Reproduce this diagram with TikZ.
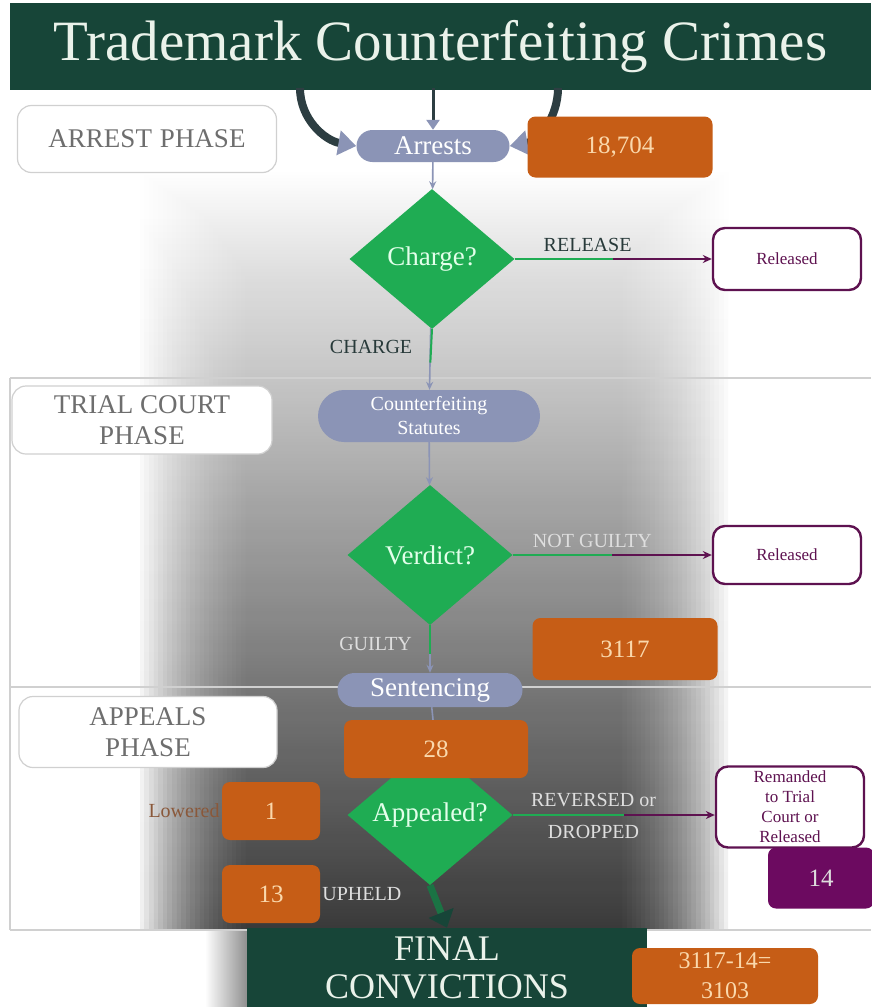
\documentclass[tikz,border=0pt]{standalone}
\usepackage{fontspec}
\setmainfont{Liberation Serif}
\usetikzlibrary{shapes.geometric,arrows.meta,calc}
%
\definecolor{titleGreen}{RGB}{23,69,56}
\definecolor{titleText}{RGB}{234,242,234}
\definecolor{pillBlue}{RGB}{139,148,182}
\definecolor{boxOrange}{RGB}{198,93,22}
\definecolor{orangeText}{RGB}{250,216,172}
\definecolor{diaGreen}{RGB}{31,172,83}
\definecolor{diaText}{RGB}{226,255,234}
\definecolor{plum}{RGB}{94,18,80}
\definecolor{plumFill}{RGB}{108,10,96}
\definecolor{slateText}{RGB}{40,58,58}
\definecolor{paleText}{RGB}{222,222,222}
\definecolor{phaseText}{RGB}{110,110,110}
\definecolor{brownText}{RGB}{138,88,58}
\definecolor{ruleGray}{RGB}{208,208,208}
\definecolor{arrowDark}{RGB}{45,62,66}
\newcommand{\sizeAt}[2]{\fontsize{#1}{#2}\selectfont}

\begin{document}
\begin{tikzpicture}[x=1pt,y=-1pt,
  phaseBox/.style={draw=ruleGray, line width=1.2pt, fill=white, rounded corners=14pt,
    text=phaseText, align=center, inner sep=0pt, font=\sizeAt{27}{31}},
  pillStyle/.style={fill=pillBlue, text=white, rounded corners=16pt, align=center,
    inner sep=0pt},
  countBox/.style={fill=boxOrange, text=orangeText, rounded corners=8pt, align=center,
    inner sep=0pt, font=\sizeAt{25}{31}},
  decision/.style={diamond, aspect=1, fill=diaGreen, text=diaText, inner sep=0pt,
    minimum width=165pt, minimum height=140pt, font=\sizeAt{27}{30}},
  outBox/.style={draw=plum, line width=2.4pt, fill=white, rounded corners=12pt,
    text=plum, align=center, inner sep=0pt, minimum width=148pt, font=\sizeAt{17}{20}},
  darkLabel/.style={text=slateText, font=\sizeAt{20}{22}},
  paleLabel/.style={text=paleText, font=\sizeAt{20}{22}},
  flowLine/.style={draw=pillBlue, line width=1.6pt, -{Stealth[length=8pt,width=7pt]}},
  greenLine/.style={draw=diaGreen, line width=2pt},
  plumLine/.style={draw=plum, line width=2pt, -{Stealth[length=9pt,width=8pt]}},
  topArrow/.style={draw=arrowDark, line width=#1,
    -{Triangle[length=18pt,width=24pt,color=pillBlue]}},
  heavyArrow/.style={draw=diaGreen!45!titleGreen, line width=7pt,
    -{Triangle[length=16pt,width=26pt,color=titleGreen]}},
]
%
%
\useasboundingbox (0,0) rectangle (871,1007);
\fill[white] (0,0) rectangle (871,1007);
%
% grey haze behind the flow, built up in thin layers
\foreach \k in {0,...,23}{
  \shade[top color=white, middle color=black!55, bottom color=black!95, opacity=0.062]
    ({140+4.6*\k},170) rectangle ({728-4.6*\k},930);
}
\shade[left color=white, right color=black!45] (205,930) rectangle (248,1007);
%
% phase panels
\draw[ruleGray, line width=2.5pt] (10,378) -- (871,378);
\draw[ruleGray, line width=2.5pt] (10,687) -- (871,687);
\draw[ruleGray, line width=2.5pt] (10,930) -- (871,930);
\draw[ruleGray, line width=2pt] (10,378) -- (10,930);
%
% title bar
\node[fill=titleGreen, minimum width=861pt, minimum height=87pt, inner sep=0pt,
  text=titleText, font=\sizeAt{57}{60}] (title) at (440.5,46.5)
  {Trademark Counterfeiting Crimes};
\coordinate (topL) at (300,88);
\coordinate (topM) at (433,88);
\coordinate (topR) at (558,88);
%
%
% The arrest phase.
\node[phaseBox, minimum width=259pt, minimum height=67pt] (phaseA) at (147,139)
  {ARREST\hspace{8pt}PHASE};
\node[pillStyle, minimum width=153pt, minimum height=32pt, font=\sizeAt{27}{30}]
  (arrests) at (433,146) {Arrests};
\draw[topArrow=8pt] (topL) to[out=-90,in=170] (arrests.west);
\draw[topArrow=8pt] (topR) to[out=-90,in=10] (arrests.east);
\draw[draw=arrowDark, line width=3pt, -{Triangle[length=10pt,width=13pt,color=pillBlue]}]
  (topM) -- (arrests.north);
\node[countBox, minimum width=185pt, minimum height=61pt] (cnt1) at (620,147) {18,704};
\node[decision] (charge) at (432,259) {Charge?};
\node[outBox, minimum height=62pt] (rel1) at (787,259) {Released};
\draw[flowLine] (arrests) -- (charge);
\draw[plumLine] (charge.east) -- node[pos=0.37, above=3pt, darkLabel] (relLbl) {RELEASE}
  (rel1.west);
\draw[greenLine] (charge.east) -- ($(charge.east)!0.5!(rel1.west)$);
%
%
% The trial court phase.
\node[phaseBox, minimum width=260pt, minimum height=68pt] (phaseT) at (142,420)
  {TRIAL COURT\\PHASE};
\node[pillStyle, rounded corners=26pt, minimum width=222pt, minimum height=52pt,
  font=\sizeAt{20}{24}] (statutes) at (429,416) {Counterfeiting\\Statutes};
\draw[flowLine] (charge) -- node[pos=0.3, left=14pt, darkLabel] (chgLbl) {CHARGE}
  (statutes);
\draw[greenLine] (charge.south) -- ($(charge.south)!0.55!(statutes.north)$);
\node[decision] (verdict) at (430,555) {Verdict?};
\node[outBox, minimum height=58pt] (rel2) at (787,555) {Released};
\draw[flowLine] (statutes) -- (verdict);
\draw[plumLine] (verdict.east) -- node[pos=0.4, above=3pt, paleLabel] (ngLbl) {NOT GUILTY}
  (rel2.west);
\draw[greenLine] (verdict.east) -- ($(verdict.east)!0.5!(rel2.west)$);
\node[countBox, minimum width=185pt, minimum height=62pt] (cnt2) at (625,649) {3117};
\node[pillStyle, minimum width=185pt, minimum height=34pt, rounded corners=17pt,
  font=\sizeAt{27}{30}] (sentencing) at (430,690) {Sentencing};
\draw[flowLine] (verdict) -- node[pos=0.4, left=14pt, paleLabel] (gLbl) {GUILTY}
  (sentencing);
\draw[greenLine] (verdict.south) -- ($(verdict.south)!0.6!(sentencing.north)$);
%
%
% The appeals phase.
\node[phaseBox, minimum width=258pt, minimum height=71pt] (phaseP) at (148,732)
  {APPEALS\\PHASE};
\node[decision] (appealed) at (430,815) {Appealed?};
\node[countBox, minimum width=184pt, minimum height=58pt] (cnt3) at (436,749) {28};
\draw[pillBlue, line width=1.6pt] (sentencing) -- (cnt3);
\node[countBox, minimum width=98pt, minimum height=58pt] (cnt4) at (271,811) {1};
\node[countBox, minimum width=98pt, minimum height=58pt] (cnt5) at (271,894) {13};
\node[text=brownText, font=\sizeAt{20}{22}, anchor=east, inner sep=2pt] (lowLbl)
  at (cnt4.west) {Lowered};
\node[paleLabel, anchor=west, inner sep=2pt] (upLbl) at (cnt5.east) {UPHELD};
\node[outBox, minimum height=81pt] (remand) at (790,807)
  {Remanded\\to Trial\\Court or\\Released};
\node[fill=plumFill, text=paleText, rounded corners=8pt, minimum width=106pt,
  minimum height=61pt, font=\sizeAt{25}{30}] (cnt6) at (821,878) {14};
\draw[plumLine] (appealed.east) --
  node[pos=0.4, above=4pt, paleLabel] (revLbl) {REVERSED or}
  node[pos=0.4, below=6pt, paleLabel] (dropLbl) {DROPPED}
  (appealed.east -| remand.west);
\draw[greenLine] (appealed.east) -- ($(appealed.east)!0.55!(appealed.east -| remand.west)$);
%
%
% Final outcome.
\node[fill=titleGreen, text=titleText, minimum width=400pt, minimum height=80pt,
  align=center, inner sep=0pt, font=\sizeAt{36}{38}] (final) at (447,968)
  {FINAL\\CONVICTIONS};
\node[countBox, minimum width=186pt, minimum height=56pt, font=\sizeAt{24}{30}]
  (cnt7) at (725,976) {3117-14=\\3103};
\draw[heavyArrow] (appealed.south) -- (final.north);
\end{tikzpicture}
\end{document}
